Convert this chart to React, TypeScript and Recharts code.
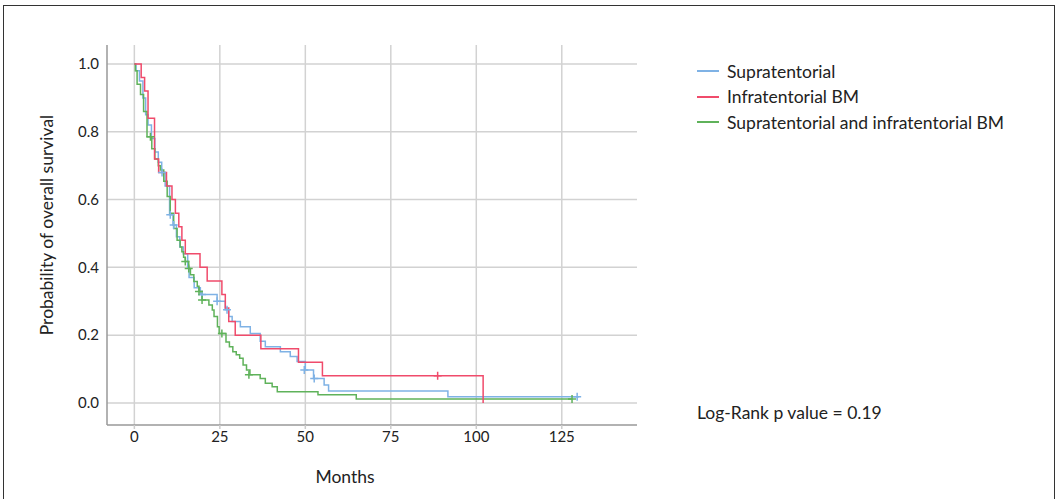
import React from "react";
import {
  ComposedChart,
  Line,
  Scatter,
  XAxis,
  YAxis,
  ReferenceLine,
  Label,
} from "recharts";

// Kaplan-Meier step points (months, survival probability)
const supraTimes = [0, 0.5, 1.5, 2.5, 3.3, 4, 5, 6, 7, 8, 9, 10.3, 11.3, 12.3, 13.3, 14.3, 15.6, 16, 17.5, 19.3, 24.2, 26.6, 27.6, 28.6, 31, 33.9, 36.8, 38.3, 42.7, 45.6, 47.6, 50, 52.4, 55.5, 56.8, 91.7, 130];
const supraSurv = [1.0, 0.98, 0.95, 0.9, 0.85, 0.82, 0.78, 0.74, 0.71, 0.68, 0.64, 0.555, 0.525, 0.49, 0.46, 0.44, 0.4, 0.37, 0.34, 0.32, 0.3, 0.275, 0.255, 0.24, 0.225, 0.205, 0.182, 0.166, 0.151, 0.137, 0.122, 0.097, 0.072, 0.053, 0.035, 0.018, 0.018];

const infraTimes = [0, 2, 3, 4, 5.9, 7.1, 9.4, 11, 12, 13, 13.9, 14.9, 19.2, 21.3, 25.6, 26.6, 27.6, 29.5, 37, 48, 55, 102];
const infraSurv = [1.0, 0.96, 0.92, 0.84, 0.72, 0.68, 0.64, 0.6, 0.56, 0.52, 0.48, 0.44, 0.4, 0.36, 0.32, 0.28, 0.24, 0.2, 0.16, 0.12, 0.08, 0];

const bothTimes = [0, 0.3, 0.8, 1.8, 2.7, 3.7, 5.1, 6, 7, 7.6, 8.6, 9.6, 10.5, 11.5, 12.5, 13.4, 13.9, 14.4, 14.9, 15.9, 16.4, 17.4, 18.4, 18.9, 19.8, 21.8, 22.8, 23.3, 24.3, 24.8, 26.8, 27.8, 28.8, 29.8, 30.8, 31.8, 32.8, 33.8, 36.8, 38.3, 40.3, 41.8, 53.7, 64.9, 128];
const bothSurv = [1.0, 0.98, 0.94, 0.91, 0.86, 0.785, 0.75, 0.72, 0.7, 0.687, 0.654, 0.609, 0.56, 0.515, 0.48, 0.46, 0.446, 0.43, 0.417, 0.397, 0.378, 0.358, 0.344, 0.329, 0.304, 0.289, 0.274, 0.255, 0.225, 0.205, 0.18, 0.166, 0.151, 0.142, 0.132, 0.112, 0.097, 0.083, 0.072, 0.058, 0.048, 0.033, 0.024, 0.012, 0.012];

// censored observations
const supraCensTimes = [8.1, 10.5, 11.5, 19.8, 24.2, 27.1, 49.7, 52.6, 129.5];
const supraCensSurv = [0.68, 0.555, 0.525, 0.32, 0.3, 0.275, 0.097, 0.072, 0.018];
const infraCensTimes = [88.7];
const infraCensSurv = [0.08];
const bothCensTimes = [4.7, 14.9, 15.9, 18.9, 19.8, 25.6, 33.5, 128];
const bothCensSurv = [0.785, 0.417, 0.397, 0.329, 0.304, 0.205, 0.083, 0.012];

const xTicks = [0, 25, 50, 75, 100, 125];
const yTicks = [0, 0.2, 0.4, 0.6, 0.8, 1.0];

const seriesNames = ["Supratentorial", "Infratentorial BM", "Supratentorial and infratentorial BM"];
const pValueText = "Log-Rank p value = 0.19";

const BLUE = "#7fb2e5";
const RED = "#f04b6b";
const GREEN = "#5fb25a";
const GRID = "#d2d2d2";
const FONT = "Lato, 'Noto Sans', sans-serif";

const toPoints = (t: number[], s: number[]) => t.map((x, i) => ({ t: x, s: s[i] }));

const crossShape = (color: string) => (props: any) => {
  const { cx, cy } = props;
  return (
    <path
      d={`M${cx - 4},${cy}h8M${cx},${cy - 4}v8`}
      stroke={color}
      strokeWidth={1.5}
      fill="none"
    />
  );
};

const App = () => {
  const legendColors = [BLUE, RED, GREEN];
  return (
    <div
      style={{
        position: "absolute",
        left: 0,
        top: 0,
        width: 1057,
        height: 499,
        background: "#fff",
        fontFamily: FONT,
        overflow: "hidden",
      }}
    >
      <div
        style={{
          position: "absolute",
          left: 3,
          top: 5,
          width: 1050,
          height: 500,
          borderTop: "1.5px solid #333",
          borderLeft: "1.5px solid #333",
          borderRight: "1.5px solid #333",
        }}
      />
      <div style={{ position: "absolute", left: 0, top: 0 }}>
        <ComposedChart
          width={660}
          height={499}
          margin={{ top: 45, right: 23, bottom: 0, left: 0 }}
        >
          <XAxis
            type="number"
            dataKey="t"
            domain={[-8, 147]}
            ticks={xTicks}
            allowDataOverflow
            height={74}
            stroke="#999"
            strokeWidth={1.5}
            tickSize={4}
            tickLine={{ stroke: "#ccc" }}
            tick={{ fill: "#222", fontSize: 15, fontFamily: FONT }}
          >
            <Label
              content={() => (
                <text x={345} y={476} textAnchor="middle" dominantBaseline="central" fill="#222" fontSize={17.5} fontFamily={FONT}>
                  Months
                </text>
              )}
            />
          </XAxis>
          <YAxis
            type="number"
            domain={[-0.065, 1.056]}
            ticks={yTicks}
            allowDataOverflow
            width={107}
            stroke="#999"
            strokeWidth={1.5}
            tickLine={false}
            tickFormatter={(v: number) => v.toFixed(1)}
            tick={{ fill: "#222", fontSize: 15, fontFamily: FONT }}
          >
            <Label
              content={() => (
                <text
                  x={46}
                  y={225}
                  transform="rotate(-90 46 225)"
                  textAnchor="middle"
                  dominantBaseline="central"
                  fill="#222"
                  fontSize={17.5}
                  fontFamily={FONT}
                >
                  Probability of overall survival
                </text>
              )}
            />
          </YAxis>
          {yTicks.map((v) => (
            <ReferenceLine key={`y${v}`} y={v} stroke={GRID} strokeWidth={1.5} />
          ))}
          {xTicks.map((v) => (
            <ReferenceLine key={`x${v}`} x={v} stroke={GRID} strokeWidth={1.5} />
          ))}
          <Line data={toPoints(supraTimes, supraSurv)} dataKey="s" type="stepAfter" stroke={BLUE} strokeWidth={1.5} dot={false} isAnimationActive={false} />
          <Line data={toPoints(bothTimes, bothSurv)} dataKey="s" type="stepAfter" stroke={GREEN} strokeWidth={1.5} dot={false} isAnimationActive={false} />
          <Line data={toPoints(infraTimes, infraSurv)} dataKey="s" type="stepAfter" stroke={RED} strokeWidth={1.5} dot={false} isAnimationActive={false} />
          <Scatter data={toPoints(supraCensTimes, supraCensSurv)} dataKey="s" shape={crossShape(BLUE)} isAnimationActive={false} />
          <Scatter data={toPoints(bothCensTimes, bothCensSurv)} dataKey="s" shape={crossShape(GREEN)} isAnimationActive={false} />
          <Scatter data={toPoints(infraCensTimes, infraCensSurv)} dataKey="s" shape={crossShape(RED)} isAnimationActive={false} />
        </ComposedChart>
      </div>
      {seriesNames.map((name, i) => (
        <div
          key={name}
          style={{
            position: "absolute",
            left: 697,
            top: 59 + i * 25.5,
            height: 24,
            display: "flex",
            alignItems: "center",
            fontSize: 17.5,
            color: "#222",
            whiteSpace: "nowrap",
          }}
        >
          <span style={{ display: "inline-block", width: 22, height: 2, background: legendColors[i], marginRight: 8 }} />
          {name}
        </div>
      ))}
      <div
        style={{
          position: "absolute",
          left: 697,
          top: 401,
          height: 24,
          lineHeight: "24px",
          fontSize: 17.5,
          color: "#222",
          whiteSpace: "nowrap",
        }}
      >
        {pValueText}
      </div>
    </div>
  );
};

export default App;
